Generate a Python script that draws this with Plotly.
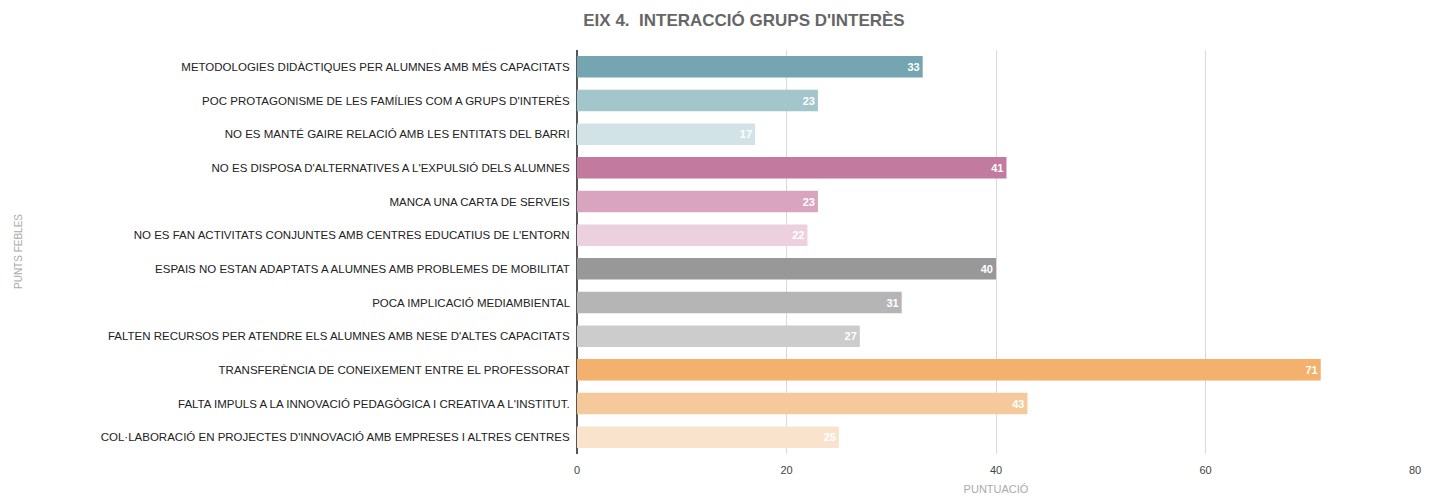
import plotly.graph_objects as go

categories = [
    "METODOLOGIES DIDÀCTIQUES PER ALUMNES AMB MÉS CAPACITATS",
    "POC PROTAGONISME DE LES FAMÍLIES COM A GRUPS D'INTERÈS",
    "NO ES MANTÉ GAIRE RELACIÓ AMB LES ENTITATS DEL BARRI",
    "NO ES DISPOSA D'ALTERNATIVES A L'EXPULSIÓ DELS ALUMNES",
    "MANCA UNA CARTA DE SERVEIS",
    "NO ES FAN ACTIVITATS CONJUNTES AMB CENTRES EDUCATIUS DE L'ENTORN",
    "ESPAIS NO ESTAN ADAPTATS A ALUMNES AMB PROBLEMES DE MOBILITAT",
    "POCA IMPLICACIÓ MEDIAMBIENTAL",
    "FALTEN RECURSOS PER ATENDRE ELS ALUMNES AMB NESE D'ALTES CAPACITATS",
    "TRANSFERÈNCIA DE CONEIXEMENT ENTRE EL PROFESSORAT",
    "FALTA IMPULS A LA INNOVACIÓ PEDAGÒGICA I CREATIVA A L'INSTITUT.",
    "COL·LABORACIÓ EN PROJECTES D'INNOVACIÓ AMB EMPRESES I ALTRES CENTRES",
]
values = [33, 23, 17, 41, 23, 22, 40, 31, 27, 71, 43, 25]
colors = [
    "#74A5B1", "#A3C5CC", "#D2E3E7",
    "#C27A9E", "#D9A4BF", "#ECD0DE",
    "#989898", "#B5B5B5", "#CCCCCC",
    "#F4B06D", "#F6C99C", "#FAE3CC",
]
x_ticks = [0, 20, 40, 60, 80]

fig = go.Figure(
    go.Bar(
        x=values,
        y=categories,
        orientation="h",
        marker=dict(color=colors, line=dict(width=0)),
        width=0.64,
        text=[str(v) for v in values],
        textposition="inside",
        insidetextanchor="end",
        textfont=dict(family="Liberation Sans, Arial, sans-serif", size=11, color="white"),
        texttemplate="<b>%{text}</b>",
        cliponaxis=False,
    )
)

fig.update_layout(
    width=1437,
    height=496,
    margin=dict(l=569, r=30, t=42, b=50),
    paper_bgcolor="white",
    plot_bgcolor="white",
    showlegend=False,
    font=dict(family="Liberation Sans, Arial, sans-serif", color="#222222"),
    title=dict(
        text="<b>EIX 4.\u00a0 INTERACCIÓ GRUPS D'INTERÈS</b>",
        x=736 / 1437,
        xanchor="center",
        y=1 - 12 / 496,
        yanchor="middle",
        font=dict(size=17, color="#666666"),
    ),
    xaxis=dict(
        range=[0, 80],
        tickvals=x_ticks,
        showgrid=True,
        gridcolor="#D9D9D9",
        gridwidth=1,
        zeroline=True,
        zerolinecolor="#555555",
        zerolinewidth=1.5,
        tickfont=dict(size=11, color="#444444"),
        ticklabelstandoff=8,
        title=dict(text="PUNTUACIÓ", font=dict(size=11, color="#AAAAAA"), standoff=10),
        automargin=False,
        fixedrange=True,
    ),
    yaxis=dict(
        autorange="reversed",
        tickfont=dict(size=11.5, color="#222222"),
        ticksuffix="  ",
        showgrid=False,
        automargin=False,
    ),
    annotations=[
        dict(
            text="PUNTS FEBLES",
            xref="paper",
            yref="paper",
            x=(10 - 569) / 838,
            y=0.5,
            xanchor="center",
            yanchor="middle",
            textangle=-90,
            showarrow=False,
            font=dict(size=10, color="#AAAAAA"),
        )
    ],
)

fig.write_html("out.html")
